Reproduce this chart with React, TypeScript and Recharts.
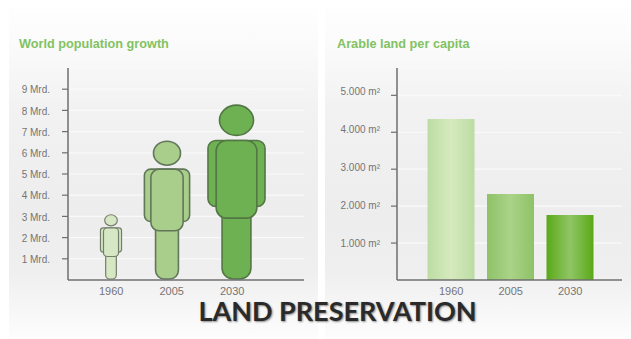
import { BarChart, Bar, XAxis, YAxis, CartesianGrid, Cell } from 'recharts';

const years = ['1960', '2005', '2030'];

// world population in billions, shown as figures as tall as the value
const population = [3.03, 6.5, 8.2];
const populationTicks = [1, 2, 3, 4, 5, 6, 7, 8, 9];

// arable land per person in square metres
const arableLand = [4360, 2330, 1760];
const arableTicks = [1000, 2000, 3000, 4000, 5000];

const populationData = years.map((year, i) => ({ year, value: population[i] }));
const arableData = years.map((year, i) => ({ year, value: arableLand[i] }));

const figureFill = ['#d6e7c3', '#a9cd8a', '#6db152'];
const figureStroke = ['#737f6c', '#62775a', '#527744'];
// the figures don't sit quite centred over their year labels
const figureShift = [0, -4.5, 4.5];

const barGradients = [
  { id: 'bar1960', edge: '#bcdca4', middle: '#d6eabd' },
  { id: 'bar2005', edge: '#8fc268', middle: '#aad388' },
  { id: 'bar2030', edge: '#5aa917', middle: '#90c566' },
];

const axisColor = '#6e6e6e';
const labelColor = '#757575';
const titleColor = '#82c263';
const sansFont = '"Liberation Sans", Arial, sans-serif';
const panelBackground =
  'linear-gradient(to bottom, #fefefe 0%, #fbfbfb 10%, #f2f2f2 30%, #ededed 62%, #efefef 80%, #fdfdfd 100%)';

// Person outline, all proportions are relative to the total height
function PersonShape(props: any) {
  const { x, width, height, index } = props;
  const h = height;
  const cx = x + width / 2 + figureShift[index];
  const bottom = props.y + h - 1;
  const fill = figureFill[index];
  const stroke = figureStroke[index];
  const sw = index === 0 ? 1.2 : 1.6;

  const shoulderW = h * 0.328;
  const torsoW = h * 0.234;
  const legW = h * 0.166;
  const shoulderTop = bottom - h * 0.797;

  return (
    <g fill={fill} stroke={stroke} strokeWidth={sw}>
      <rect x={cx - legW / 2} y={bottom - h * 0.42} width={legW} height={h * 0.42} rx={legW * 0.38} />
      <rect
        x={cx - shoulderW / 2}
        y={shoulderTop}
        width={shoulderW}
        height={h * 0.38}
        rx={h * 0.045}
      />
      <rect
        x={cx - torsoW / 2}
        y={shoulderTop}
        width={torsoW}
        height={h * 0.447}
        rx={h * 0.06}
      />
      <ellipse cx={cx} cy={bottom - h * 0.913} rx={h * 0.098} ry={h * 0.087} />
    </g>
  );
}

// Tick labels on the land axis run slightly wider apart than the tick marks
function LandTick({ x, y, payload }: any) {
  const lift = (payload.value / 1000 - 1) * 1.1 - 0.7;
  return (
    <text
      x={x}
      y={y - lift}
      dy="0.355em"
      textAnchor="end"
      fontFamily={sansFont}
      fontSize={10}
      fill={labelColor}
    >
      {`${payload.value / 1000}.000 m²`}
    </text>
  );
}

function PopulationTick({ x, y, payload }: any) {
  return (
    <text
      x={x}
      y={y + 0.6}
      dy="0.355em"
      textAnchor="end"
      fontFamily={sansFont}
      fontSize={10}
      fill={labelColor}
    >
      {`${payload.value} Mrd.`}
    </text>
  );
}

const panelStyle = (left: number, width: number) =>
  ({
    position: 'absolute',
    left,
    top: 8,
    width,
    height: 331,
    background: panelBackground,
  }) as const;

const titleStyle = (left: number) =>
  ({
    position: 'absolute',
    left,
    top: 37,
    fontFamily: sansFont,
    fontWeight: 700,
    fontSize: 12.7,
    lineHeight: '14px',
    color: titleColor,
    whiteSpace: 'nowrap',
    opacity: 0.999,
  }) as const;

const yearTick = { fontFamily: sansFont, fill: labelColor, fontSize: 11 };

export default function App() {
  return (
    <div
      style={{
        position: 'absolute',
        left: 0,
        top: 0,
        width: 631,
        height: 339,
        overflow: 'hidden',
        background: '#fff',
      }}
    >
      <div style={panelStyle(9, 309)} />
      <div style={panelStyle(325, 306)} />

      <div style={titleStyle(19)}>World population growth</div>
      <div style={titleStyle(337)}>Arable land per capita</div>

      <div style={{ position: 'absolute', left: 0, top: 0, opacity: 0.999 }}>
        <BarChart
          width={320}
          height={339}
          data={populationData}
          margin={{ top: 68, right: 16, bottom: 0, left: 0 }}
        >
          <CartesianGrid horizontal vertical={false} stroke="#fafafa" strokeWidth={1.2} />
          <XAxis
            dataKey="year"
            height={59}
            padding={{ left: 13, right: 41.5 }}
            tickLine={false}
            tickMargin={1}
            tick={yearTick}
            axisLine={{ stroke: axisColor, strokeWidth: 1.5 }}
            interval={0}
          />
          <YAxis
            width={68}
            domain={[0, 10]}
            ticks={populationTicks}
            interval={0}
            tickSize={6}
            tickMargin={12}
            tick={PopulationTick}
            tickLine={{ stroke: axisColor, strokeWidth: 1.2 }}
            axisLine={{ stroke: axisColor, strokeWidth: 1.5 }}
          />
          <Bar dataKey="value" barSize={60} shape={PersonShape} isAnimationActive={false} />
        </BarChart>
      </div>

      <div style={{ position: 'absolute', left: 320, top: 0, opacity: 0.999 }}>
        <BarChart
          width={311}
          height={339}
          data={arableData}
          margin={{ top: 68, right: 9, bottom: 0, left: 0 }}
        >
          <defs>
            {barGradients.map((g) => (
              <linearGradient key={g.id} id={g.id} x1="0" y1="0" x2="1" y2="0">
                <stop offset="0%" stopColor={g.edge} />
                <stop offset="50%" stopColor={g.middle} />
                <stop offset="100%" stopColor={g.edge} />
              </linearGradient>
            ))}
          </defs>
          <CartesianGrid horizontal vertical={false} stroke="#fafafa" strokeWidth={1.2} />
          <XAxis
            dataKey="year"
            height={59}
            padding={{ left: 24.5, right: 22 }}
            tickLine={false}
            tickMargin={1}
            tick={yearTick}
            axisLine={{ stroke: axisColor, strokeWidth: 1.5 }}
            interval={0}
          />
          <YAxis
            width={77}
            domain={[0, 5740]}
            ticks={arableTicks}
            interval={0}
            tickSize={6}
            tickMargin={11}
            tick={LandTick}
            tickLine={{ stroke: axisColor, strokeWidth: 1.2 }}
            axisLine={{ stroke: axisColor, strokeWidth: 1.5 }}
          />
          <Bar dataKey="value" barSize={47} isAnimationActive={false}>
            {arableData.map((d, i) => (
              <Cell key={d.year} fill={`url(#${barGradients[i].id})`} />
            ))}
          </Bar>
        </BarChart>
      </div>

      <div
        style={{
          position: 'absolute',
          left: 0,
          top: 298,
          width: 675,
          textAlign: 'center',
          fontFamily: 'Lato, sans-serif',
          fontWeight: 700,
          fontSize: 27,
          lineHeight: '26px',
          color: '#2a2a2a',
          textShadow: '1px 1px 2px rgba(0,0,0,0.45)',
          whiteSpace: 'nowrap',
        }}
      >
        LAND PRESERVATION
      </div>
    </div>
  );
}
